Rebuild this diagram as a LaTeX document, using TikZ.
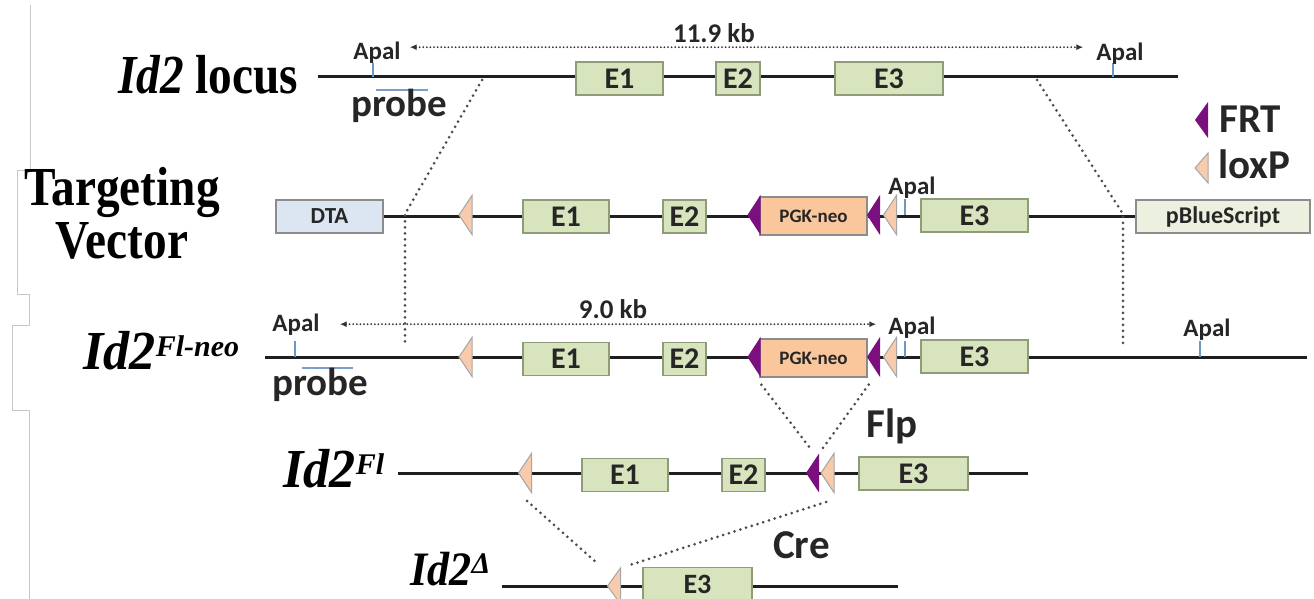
\documentclass[tikz,border=0pt]{standalone}
\usepackage{fontspec}
\setmainfont{Liberation Serif}
\newfontfamily\calibri{Carlito}
\usetikzlibrary{arrows.meta}

\definecolor{exonfill}{HTML}{D7E4BD}
\definecolor{exonline}{HTML}{8F9C78}
\definecolor{dtafill}{HTML}{DCE6F2}
\definecolor{pbsfill}{HTML}{EBF1DE}
\definecolor{neofill}{HTML}{FAC69C}
\definecolor{loxfill}{HTML}{F8CBAD}
\definecolor{frtfill}{HTML}{7B0F7D}
\definecolor{probeblue}{HTML}{7C9DC9}
\definecolor{ticktone}{HTML}{6A9AC4}
\definecolor{darktext}{HTML}{262626}

% squeezed serif for the row names
\def\narrow#1{\scalebox{0.86}[1]{#1}}
\def\wider#1{\scalebox{0.95}[1]{#1}}
% loxP and FRT sites, both pointing left: (x, y, half height)
\def\loxp(#1,#2,#3){\draw[loxsite] ({#1-6.5},#2) -- ({#1+6.5},{#2-#3}) -- ({#1+6.5},{#2+#3}) -- cycle;}
\def\frt(#1,#2,#3){\fill[frtsite] ({#1-6.5},#2) -- ({#1+6.5},{#2-#3}) -- ({#1+6.5},{#2+#3}) -- cycle;}

\tikzset{
  backbone/.style={line width=3pt, black!88},
  exon/.style={draw=exonline, fill=exonfill, line width=1.3pt, minimum height=33pt, inner sep=0pt, text=darktext, font=\calibri\bfseries\fontsize{30}{30}\selectfont},
  cassette/.style={draw=black!45, line width=1.3pt, minimum height=33pt, inner sep=0pt, text=darktext, font=\calibri\bfseries\fontsize{23}{23}\selectfont},
  loxsite/.style={fill=loxfill, draw=black!35, line width=1pt},
  frtsite/.style={frtfill},
  sitetick/.style={ticktone, line width=1.5pt},
  sitelabel/.style={inner sep=0pt, text=darktext, font=\calibri\bfseries\fontsize{25}{25}\selectfont},
  probebar/.style={probeblue, line width=2.5pt},
  probelabel/.style={inner sep=0pt, text=darktext, font=\calibri\bfseries\fontsize{39}{39}\selectfont},
  kbarrow/.style={black!80, line width=2pt, dash pattern=on 0pt off 3.6pt, line cap=round, {Latex[length=7pt,width=6pt]}-{Latex[length=7pt,width=6pt]}},
  kblabel/.style={inner sep=0pt, text=darktext, font=\calibri\bfseries\fontsize{27}{27}\selectfont},
  homology/.style={black!70, line width=3pt, dash pattern=on 0pt off 6pt, line cap=round},
  enzlabel/.style={inner sep=0pt, text=darktext, font=\calibri\bfseries\fontsize{41}{41}\selectfont},
  rowlabel/.style={inner sep=0pt, font=\bfseries\fontsize{55}{53}\selectfont},
  frame/.style={black!22, line width=1pt}
}

\begin{document}
\begin{tikzpicture}[x=1pt, y=-1pt]
  \useasboundingbox (0,0) rectangle (1314,599);
  \clip (0,0) rectangle (1314,599);

  %%%%% page edge %%%%%
  \draw[frame] (30,5) -- (30,170) -- (17,170) -- (17,294) -- (29,294) -- (29,325) -- (12,325) -- (12,410) -- (29,410) -- (29,599);

  %%%%% Id2 locus %%%%%
  \node[rowlabel, anchor=base west] (locus) at (118,94) {\narrow{\textit{Id2} locus}};
  \coordinate (r1w) at (318,77);
  \coordinate (r1e) at (1178,77);
  \draw[backbone] (r1w) -- (r1e);
  \node[exon, minimum width=87pt] (e1a) at (619.5,78.5) {E1};
  \node[exon, minimum width=44pt] (e2a) at (738,78.5) {E2};
  \node[exon, minimum width=108pt] (e3a) at (889,78.5) {E3};

  \draw[sitetick] (373,63) -- (373,77);
  \draw[sitetick] (1113,63) -- (1113,77);
  \node[sitelabel, anchor=base] (apal1a) at (377,60) {Apal};
  \node[sitelabel, anchor=base] (apal1b) at (1120,61) {Apal};
  \draw[kbarrow, shorten <=9pt, shorten >=13pt] ([yshift=6pt]apal1a.east) -- ([yshift=6pt]apal1a.east -| apal1b.west);
  \node[kblabel, anchor=base] (kb1) at (714,43) {11.9 kb};

  \draw[probebar] (376,90) -- (428,90);
  \node[probelabel, anchor=base] (probe1) at (399,117) {probe};

  % key
  \frt(1201.5,120,18)
  \node[enzlabel, anchor=base west] (frtkey) at (1219,133) {FRT};
  \loxp(1201.5,168,15)
  \node[enzlabel, anchor=base west] (loxkey) at (1218,178) {loxP};

  %%%%% targeting vector %%%%%
  \node[rowlabel, align=center, anchor=base] (vector) at (122,258) {\narrow{Targeting}\\\narrow{Vector}};
  \node[cassette, fill=dtafill, minimum width=107pt] (dta) at (329.5,216.5) {DTA};
  \node[cassette, fill=pbsfill, minimum width=174pt, font=\calibri\bfseries\fontsize{24}{24}\selectfont] (pbs) at (1223,216.5) {pBlueScript};
  \draw[backbone] (dta) -- (pbs);
  \node[exon, minimum width=86pt] (e1b) at (566,216.5) {E1};
  \node[exon, minimum width=43pt] (e2b) at (684.5,216.5) {E2};
  \node[cassette, fill=neofill, minimum width=107pt, minimum height=38pt, font=\calibri\bfseries\fontsize{19}{19}\selectfont] (neo2) at (813.5,216) {PGK-neo};
  \node[exon, minimum width=107pt] (e3b) at (974.5,215.5) {E3};
  \loxp(465.5,215,19.5)
  \frt(754,215,20)
  \frt(873.5,215,20)
  \loxp(890,215,19.5)
  \draw[sitetick] (905,199) -- (905,215);
  \node[sitelabel, anchor=base] (apal2) at (912,194) {Apal};

  % homology arms
  \coordinate (ha) at (482,80);
  \coordinate (hb) at (405,214);
  \coordinate (hc) at (405,345);
  \coordinate (hd) at (1037,80);
  \coordinate (he) at (1123,214);
  \coordinate (hf) at (1123,345);
  \draw[homology] (ha) -- (hb) -- (hc);
  \draw[homology] (hd) -- (he) -- (hf);

  %%%%% Id2 Fl-neo %%%%%
  \node[rowlabel, anchor=base west] (flneo) at (83,369) {\wider{\textit{Id2}}\raisebox{13pt}{\fontsize{30}{30}\selectfont\itshape Fl-neo}};
  \coordinate (r3w) at (265,357);
  \coordinate (r3e) at (1307,357);
  \draw[backbone] (r3w) -- (r3e);
  \node[exon, minimum width=86pt] (e1c) at (566,359) {E1};
  \node[exon, minimum width=43pt] (e2c) at (684.5,359) {E2};
  \node[cassette, fill=neofill, minimum width=107pt, minimum height=38pt, font=\calibri\bfseries\fontsize{19}{19}\selectfont] (neo3) at (813.5,358) {PGK-neo};
  \node[exon, minimum width=107pt] (e3c) at (974.5,356.5) {E3};
  \loxp(465.5,357,19.5)
  \frt(754,357,20)
  \frt(873.5,357,20)
  \loxp(890,357,19.5)

  \draw[sitetick] (295,341) -- (295,357);
  \draw[sitetick] (905,341) -- (905,357);
  \draw[sitetick] (1200,341) -- (1200,357);
  \node[sitelabel, anchor=base] (apal3a) at (296,331) {Apal};
  \node[sitelabel, anchor=base] (apal3b) at (912,334) {Apal};
  \node[sitelabel, anchor=base] (apal3c) at (1207,336) {Apal};
  \draw[kbarrow, shorten <=20pt, shorten >=12pt] (apal3a.east) -- (apal3a.east -| apal3b.west);
  \node[kblabel, anchor=base] (kb2) at (613,318) {9.0 kb};

  \draw[probebar] (302,368) -- (353,368);
  \node[probelabel, anchor=base] (probe3) at (320.5,395) {probe};

  % Flp excision
  \coordinate (flpl) at (810,448);
  \coordinate (flpr) at (823,448);
  \draw[homology] ([shift={(2,7)}]neo3.south west) -- (flpl);
  \draw[homology] ([shift={(1,7)}]neo3.south east) -- (flpr);
  \node[enzlabel, anchor=base west] (flp) at (866,437) {Flp};

  %%%%% Id2 Fl %%%%%
  \node[rowlabel, anchor=base west] (fl) at (283,487) {\wider{\textit{Id2}}\raisebox{13pt}{\fontsize{30}{30}\selectfont\itshape Fl}};
  \coordinate (r4w) at (398,473);
  \coordinate (r4e) at (1028,473);
  \draw[backbone] (r4w) -- (r4e);
  \node[exon, minimum width=86pt] (e1d) at (625,475) {E1};
  \node[exon, minimum width=43pt] (e2d) at (743.5,475) {E2};
  \node[exon, minimum width=109pt] (e3d) at (913.5,473.5) {E3};
  \loxp(525,473,19.5)
  \frt(812.5,473,19.5)
  \loxp(827.5,473,19.5)

  % Cre deletion
  \coordinate (crea) at (527,501);
  \coordinate (creb) at (597,563);
  \coordinate (crec) at (826,502);
  \coordinate (cred) at (630,565);
  \draw[homology] (crea) -- (creb);
  \draw[homology] (crec) -- (cred);
  \node[enzlabel, anchor=base west] (cre) at (773,558) {Cre};

  %%%%% Id2 delta %%%%%
  \node[rowlabel, anchor=base west, font=\bfseries\fontsize{48}{48}\selectfont] (delta) at (410,585) {\scalebox{0.92}[1]{\textit{Id2}}\raisebox{12pt}{\fontsize{30}{30}\selectfont\itshape Δ}};
  \coordinate (r5w) at (502,586);
  \coordinate (r5e) at (898,586);
  \draw[backbone] (r5w) -- (r5e);
  \node[exon, minimum width=109pt, font=\calibri\bfseries\fontsize{28}{28}\selectfont] (e3e) at (697.5,584) {E3};
  \loxp(614,586,18)
\end{tikzpicture}
\end{document}
